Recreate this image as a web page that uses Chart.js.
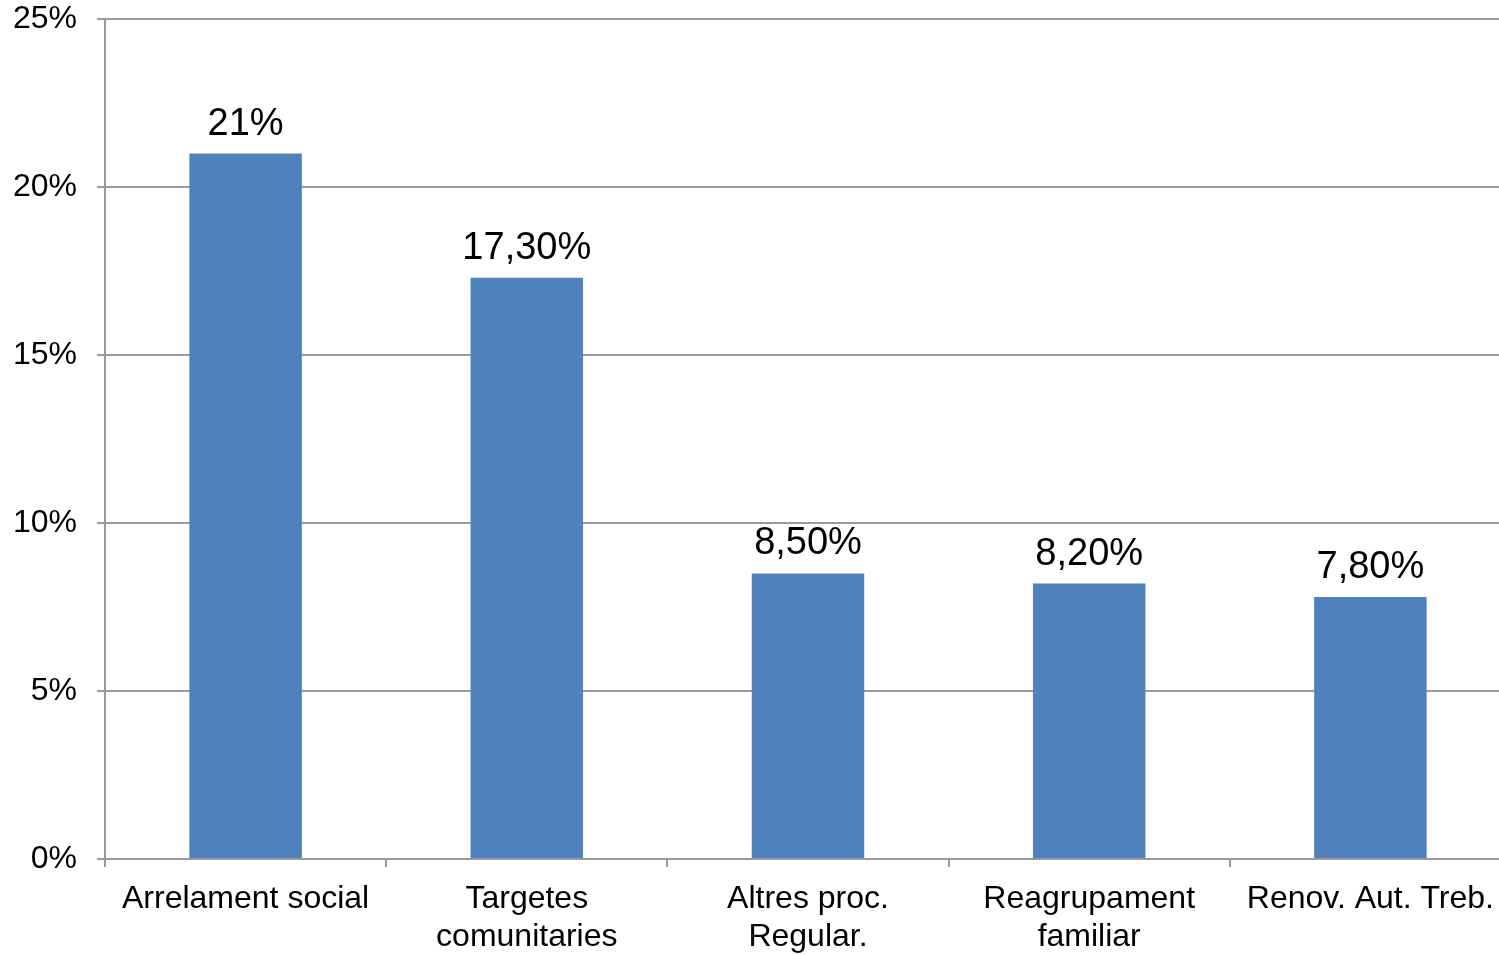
<!DOCTYPE html>
<html>
<head>
<meta charset="utf-8">
<script src="https://cdn.jsdelivr.net/npm/chart.js@4/dist/chart.umd.min.js"></script>
<style>
  html, body { margin: 0; padding: 0; background: #fff; overflow: hidden; }
  #wrap { width: 1499px; height: 955px; overflow: hidden; position: relative; }
  #myChart { position: absolute; left: 0; top: -20px; }
</style>
</head>
<body>
<div id="wrap"><canvas id="myChart" width="1511" height="975"></canvas></div>
<script>
// data
const categories = [
  'Arrelament social',
  ['Targetes', 'comunitaries'],
  ['Altres proc.', 'Regular.'],
  ['Reagrupament', 'familiar'],
  'Renov. Aut. Treb.'
]
const values = [21, 17.3, 8.5, 8.2, 7.8]
const valueLabels = ['21%', '17,30%', '8,50%', '8,20%', '7,80%']
const yTicks = [0, 5, 10, 15, 20, 25]

// draw the value labels above each bar
const barLabels = {
  id: 'barLabels',
  afterDatasetsDraw(chart) {
    const ctx = chart.ctx
    const meta = chart.getDatasetMeta(0)
    ctx.save()
    ctx.font = '38px "Liberation Sans", Arial, sans-serif'
    ctx.fillStyle = '#000'
    ctx.textAlign = 'center'
    ctx.textBaseline = 'alphabetic'
    meta.data.forEach((bar, i) => {
      ctx.fillText(valueLabels[i], bar.x, bar.y - 19)
    })
    ctx.restore()
  }
}

var ctx = document.getElementById('myChart')

var myChart = new Chart(ctx, {
  type: 'bar',
  data: {
    labels: categories,
    datasets: [{
      data: values,
      backgroundColor: '#4F81BD',
      borderWidth: 0,
      categoryPercentage: 1,
      barPercentage: 0.4
    }]
  },
  options: {
    responsive: false,
    animation: false,
    layout: { padding: 0 },
    plugins: {
      legend: { display: false },
      tooltip: { enabled: false }
    },
    scales: {
      x: {
        afterFit(scale) { scale.height = 96 },
        grid: {
          offset: true,
          drawOnChartArea: false,
          drawTicks: true,
          tickLength: 8,
          color: '#9a9a9a',
          lineWidth: 2
        },
        border: { display: true, color: '#9a9a9a', width: 2 },
        ticks: {
          color: '#000',
          padding: 14,
          maxRotation: 0,
          autoSkip: false,
          font: { family: '"Liberation Sans", Arial, sans-serif', size: 32, lineHeight: 1.16 }
        }
      },
      y: {
        min: 0,
        max: 25,
        afterFit(scale) { scale.width = 105 },
        afterBuildTicks(scale) { scale.ticks = yTicks.map(v => ({ value: v })) },
        grid: {
          color: '#9a9a9a',
          lineWidth: 2,
          drawTicks: true,
          tickLength: 8
        },
        border: { display: true, color: '#9a9a9a', width: 2 },
        ticks: {
          color: '#000',
          padding: 20,
          callback: v => v + '%',
          font: { family: '"Liberation Sans", Arial, sans-serif', size: 32 }
        }
      }
    }
  },
  plugins: [barLabels]
})
</script>
</body>
</html>
